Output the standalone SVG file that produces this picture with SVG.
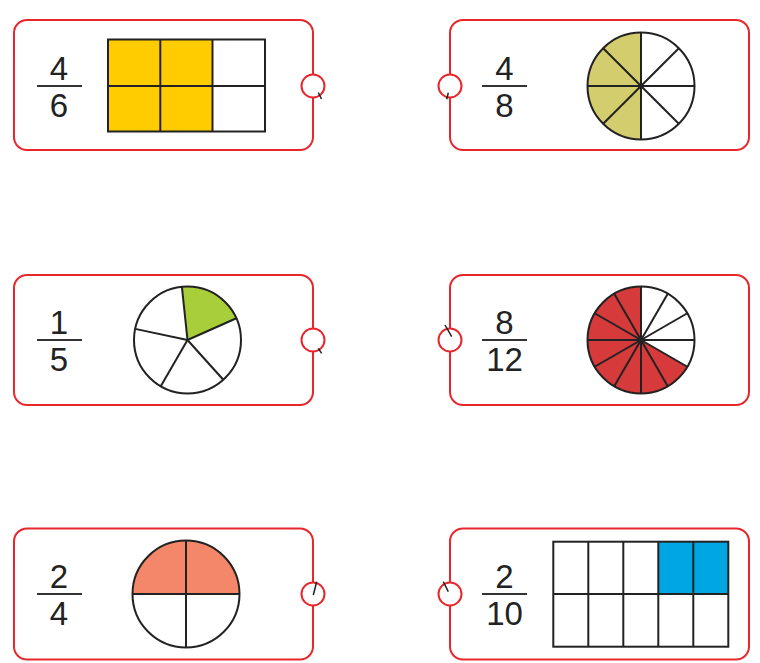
<svg xmlns="http://www.w3.org/2000/svg" width="760" height="663" viewBox="0 0 760 663">
<style>
.card{fill:#fff;stroke:#e8262b;stroke-width:2}
.knob{fill:#fff;stroke:#e8262b;stroke-width:2}
.tick{stroke:#222;stroke-width:1.5;fill:none}
.ln{stroke:#222;stroke-width:2;fill:none;stroke-linecap:butt}
.cell{stroke:#222;stroke-width:2}
.bar{stroke:#333;stroke-width:2}
.num{font-family:"Liberation Sans",Arial,sans-serif;font-weight:400;font-size:33px;fill:#222;text-anchor:middle}
</style>
<rect width="760" height="663" fill="#fff"/>

<g id="card-4-6">
<rect class="card" x="14" y="20" width="299" height="130" rx="13"/>
<text class="num" x="59" y="79.5">4</text>
<line class="bar" x1="37" y1="86" x2="82" y2="86"/>
<text class="num" x="59" y="117">6</text>
<rect x="108" y="39.5" width="104.5" height="92" fill="#ffcc00"/>
<rect class="cell" x="108" y="39.5" width="157" height="92" fill="none"/>
<line class="ln" x1="108" y1="86" x2="265" y2="86"/>
<line class="ln" x1="160.3" y1="39.5" x2="160.3" y2="131.5"/>
<line class="ln" x1="212.5" y1="39.5" x2="212.5" y2="131.5"/>
<circle class="knob" cx="313" cy="86" r="11.5"/>
<line class="tick" x1="318.3" y1="92.5" x2="321.5" y2="99"/>
</g>

<g id="card-4-8">
<rect class="card" x="450" y="20" width="299" height="130" rx="13"/>
<text class="num" x="504.5" y="79.5">4</text>
<line class="bar" x1="482" y1="86" x2="527" y2="86"/>
<text class="num" x="504.5" y="117">8</text>
<path d="M641,86 L641,32.5 A53.5,53.5 0 0 0 641,139.5 Z" fill="#d4cd6e"/>
<circle class="ln" cx="641" cy="86" r="53.5"/>
<line class="ln" x1="641" y1="32.5" x2="641" y2="139.5"/>
<line class="ln" x1="587.5" y1="86" x2="694.5" y2="86"/>
<line class="ln" x1="603.17" y1="48.17" x2="678.83" y2="123.83"/>
<line class="ln" x1="678.83" y1="48.17" x2="603.17" y2="123.83"/>
<circle cx="641" cy="86" r="2.5" fill="#222"/>
<circle class="knob" cx="450" cy="86" r="11.5"/>
<line class="tick" x1="448.3" y1="92.7" x2="446.7" y2="99.3"/>
</g>

<g id="card-1-5">
<rect class="card" x="14" y="275" width="299" height="130" rx="13"/>
<text class="num" x="59" y="333.5">1</text>
<line class="bar" x1="37" y1="340" x2="82" y2="340"/>
<text class="num" x="59" y="371">5</text>
<path d="M187.5,340 L181.91,286.79 A53.5,53.5 0 0 1 236.37,318.24 Z" fill="#a8cf3a"/>
<circle class="ln" cx="187.5" cy="340" r="53.5"/>
<line class="ln" x1="187.5" y1="340" x2="181.91" y2="286.79"/>
<line class="ln" x1="187.5" y1="340" x2="236.37" y2="318.24"/>
<line class="ln" x1="187.5" y1="340" x2="223.3" y2="379.76"/>
<line class="ln" x1="187.5" y1="340" x2="160.75" y2="386.33"/>
<line class="ln" x1="187.5" y1="340" x2="135.17" y2="328.88"/>
<circle class="knob" cx="313" cy="340" r="11.5"/>
<line class="tick" x1="318.3" y1="348.3" x2="321.7" y2="353.3"/>
</g>

<g id="card-8-12">
<rect class="card" x="450" y="275" width="299" height="130" rx="13"/>
<text class="num" x="504.5" y="333.5">8</text>
<line class="bar" x1="482" y1="340" x2="527" y2="340"/>
<text class="num" x="504.5" y="371">12</text>
<path d="M641,340 L687.33,366.75 A53.5,53.5 0 1 1 641,286.5 Z" fill="#d63a3a"/>
<circle class="ln" cx="641" cy="340" r="53.5"/>
<line class="ln" x1="641" y1="286.5" x2="641" y2="393.5"/>
<line class="ln" x1="667.75" y1="293.67" x2="614.25" y2="386.33"/>
<line class="ln" x1="687.33" y1="313.25" x2="594.67" y2="366.75"/>
<line class="ln" x1="694.5" y1="340" x2="587.5" y2="340"/>
<line class="ln" x1="687.33" y1="366.75" x2="594.67" y2="313.25"/>
<line class="ln" x1="667.75" y1="386.33" x2="614.25" y2="293.67"/>
<circle cx="641" cy="340" r="2.5" fill="#222"/>
<circle class="knob" cx="450" cy="340" r="11.5"/>
<line class="tick" x1="445" y1="325" x2="451.7" y2="336.7"/>
</g>

<g id="card-2-4">
<rect class="card" x="14" y="528.5" width="299" height="131" rx="13"/>
<text class="num" x="59" y="587.5">2</text>
<line class="bar" x1="37" y1="594" x2="82" y2="594"/>
<text class="num" x="59" y="625">4</text>
<path d="M132.5,594 A53.5,53.5 0 0 1 239.5,594 Z" fill="#f4876a"/>
<circle class="ln" cx="186" cy="594" r="53.5"/>
<line class="ln" x1="132.5" y1="594" x2="239.5" y2="594"/>
<line class="ln" x1="186" y1="540.5" x2="186" y2="647.5"/>
<circle class="knob" cx="313" cy="594" r="11.5"/>
<line class="tick" x1="316.7" y1="581.7" x2="313.3" y2="595"/>
</g>

<g id="card-2-10">
<rect class="card" x="450" y="528.5" width="299" height="131" rx="13"/>
<text class="num" x="504.5" y="587.5">2</text>
<line class="bar" x1="482" y1="594" x2="527" y2="594"/>
<text class="num" x="504.5" y="625">10</text>
<rect x="658.3" y="541.7" width="70" height="52.3" fill="#00a6e2"/>
<rect class="cell" x="553.3" y="541.7" width="175" height="105" fill="none"/>
<line class="ln" x1="553.3" y1="594" x2="728.3" y2="594"/>
<line class="ln" x1="588.3" y1="541.7" x2="588.3" y2="646.7"/>
<line class="ln" x1="623.3" y1="541.7" x2="623.3" y2="646.7"/>
<line class="ln" x1="658.3" y1="541.7" x2="658.3" y2="646.7"/>
<line class="ln" x1="693.3" y1="541.7" x2="693.3" y2="646.7"/>
<circle class="knob" cx="450" cy="594" r="11.5"/>
<line class="tick" x1="443.3" y1="581.7" x2="448.3" y2="591.7"/>
</g>
</svg>
